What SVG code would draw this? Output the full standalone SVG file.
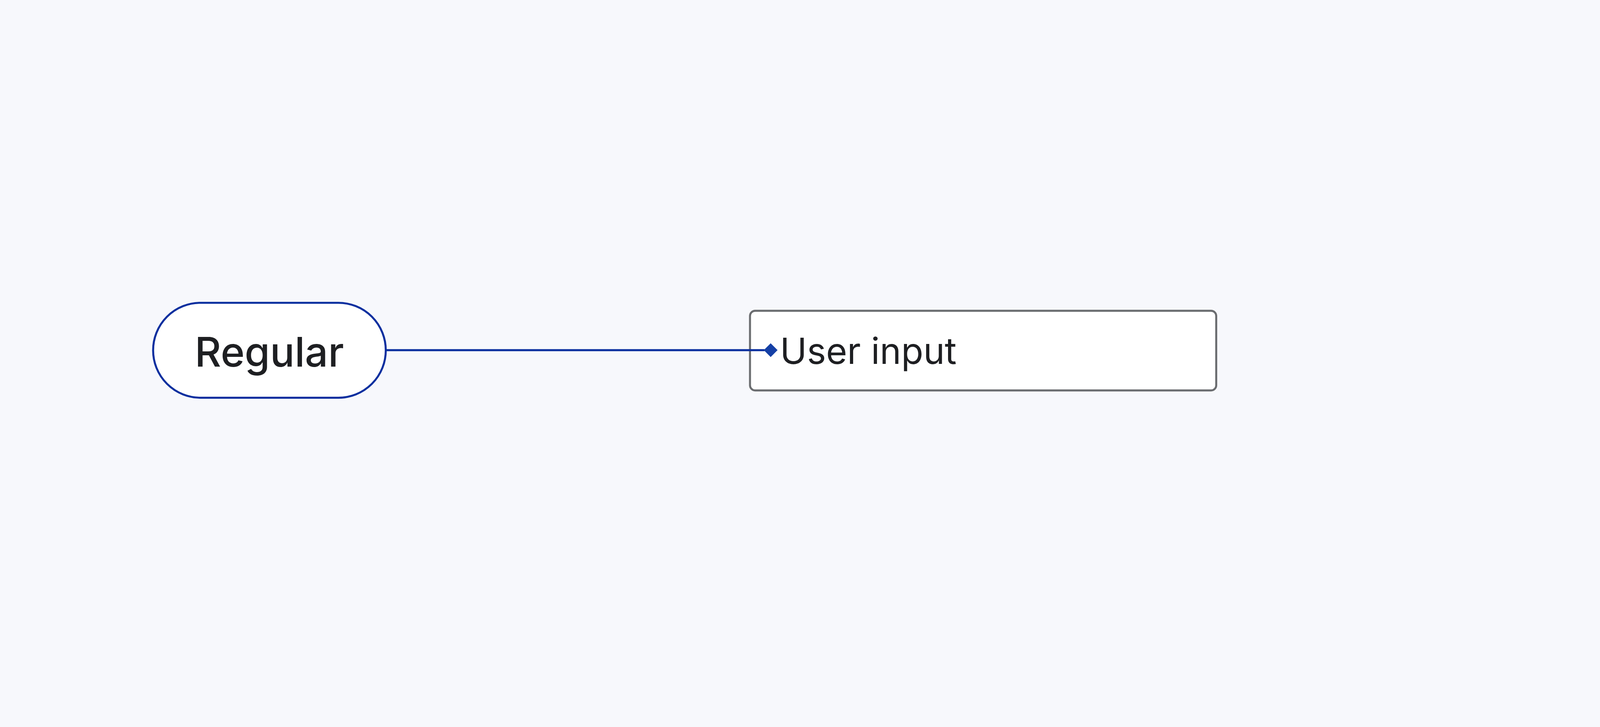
<svg xmlns="http://www.w3.org/2000/svg" width="7200" height="1860" viewBox="0 0 7200 1860">
  <style>
    svg { width: 100vw; height: 100vh; background: #f7f8fc; }
    .bg { fill: #f7f8fc; }
    .pill { fill: #ffffff; stroke: #0b2f9f; stroke-width: 9; }
    .box { fill: #ffffff; stroke: #6b6d70; stroke-width: 9; }
    .edge { fill: none; stroke: #0b2f9f; stroke-width: 9; }
    .diamond { fill: #1540a6; }
    .lbl { font-family: Inter, "Liberation Sans", sans-serif; fill: #1e1f22; }
  </style>
  <rect class="bg" x="0" y="0" width="7200" height="1860"/>
  <g id="node-regular">
    <rect class="pill" x="689" y="657" width="1047" height="427" rx="213.5" ry="213.5"/>
    <text class="lbl" x="1212" y="944" font-size="184" font-weight="500" text-anchor="middle">Regular</text>
  </g>
  <g id="node-user-input">
    <rect class="box" x="3375" y="693" width="2098" height="358" rx="23" ry="23"/>
    <text class="lbl" x="3510" y="932" font-size="163">User input</text>
  </g>
  <g id="connectors">
    <path class="edge" d="M1736,870 L3440,870"/>
    <path class="diamond" d="M3437,870 L3468,839 L3499,870 L3468,901 Z"/>
  </g>
</svg>
